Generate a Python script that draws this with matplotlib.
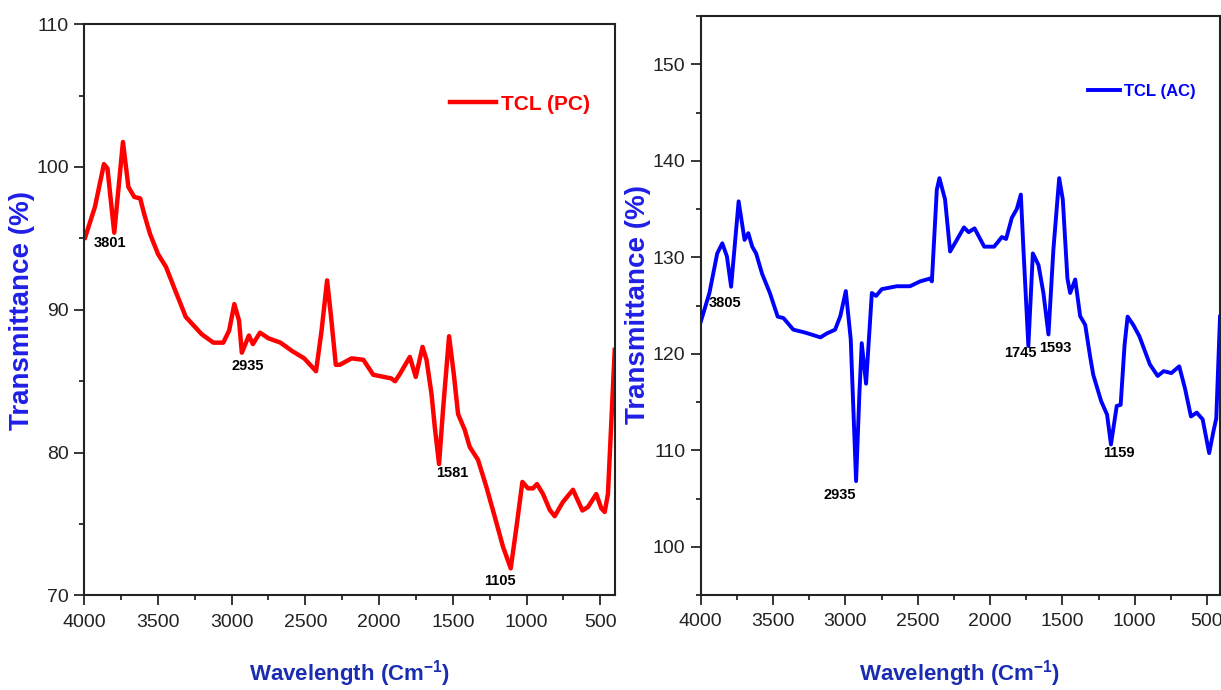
import numpy as np
import matplotlib
matplotlib.use('Agg')
from matplotlib import pyplot as plt
from matplotlib import font_manager
from matplotlib.ticker import MultipleLocator

names = {f.name for f in font_manager.fontManager.ttflist}
narrow = 'Liberation Sans Narrow' if 'Liberation Sans Narrow' in names else 'Liberation Sans'
plt.rcParams['font.family'] = [narrow, 'DejaVu Sans']
plt.rcParams['mathtext.default'] = 'regular'

# FTIR spectrum, TCL (PC)
pc_wn = [3993, 3926, 3865, 3841, 3795, 3736, 3699, 3659, 3619, 3592, 3552, 3498,
         3444, 3391, 3310, 3203, 3123, 3056, 3016, 2981, 2949, 2930, 2882, 2855,
         2807, 2748, 2668, 2587, 2507, 2427, 2390, 2352, 2325, 2293, 2266, 2186,
         2106, 2039, 1918, 1891, 1859, 1791, 1751, 1705, 1678, 1644, 1622, 1593,
         1566, 1525, 1493, 1464, 1419, 1385, 1329, 1272, 1215, 1159, 1107, 1068,
         1028, 990, 956, 929, 888, 843, 809, 753, 685, 621, 583, 527, 493, 470,
         448, 402]
pc_t = [95.05, 97.2, 100.2, 99.9, 95.4, 101.75, 98.6, 97.9, 97.8, 96.7, 95.3, 93.9,
        93.0, 91.6, 89.5, 88.3, 87.7, 87.7, 88.55, 90.4, 89.25, 87.0, 88.2, 87.6,
        88.4, 88.0, 87.7, 87.1, 86.6, 85.7, 88.5, 92.06, 89.5, 86.15, 86.15, 86.6,
        86.5, 85.45, 85.2, 85.0, 85.5, 86.7, 85.3, 87.4, 86.5, 84.1, 81.8, 79.2,
        83.0, 88.15, 85.5, 82.7, 81.6, 80.4, 79.5, 77.6, 75.5, 73.4, 71.9, 74.8,
        77.95, 77.5, 77.5, 77.8, 77.1, 76.0, 75.55, 76.55, 77.4, 75.95, 76.2, 77.1,
        76.1, 75.85, 77.1, 87.2]

# FTIR spectrum, TCL (AC)
ac_wn = [4000, 3940, 3886, 3851, 3819, 3790, 3738, 3697, 3671, 3644, 3617, 3576,
         3522, 3468, 3428, 3360, 3279, 3172, 3129, 3071, 3035, 2997, 2963, 2926,
         2903, 2887, 2857, 2817, 2788, 2748, 2645, 2553, 2484, 2414, 2402, 2368,
         2350, 2311, 2276, 2241, 2180, 2148, 2107, 2040, 1972, 1918, 1889, 1849,
         1815, 1787, 1769, 1735, 1704, 1665, 1631, 1596, 1562, 1522, 1497, 1465,
         1446, 1411, 1377, 1342, 1308, 1286, 1232, 1191, 1164, 1124, 1097, 1070,
         1049, 1010, 967, 895, 841, 800, 746, 692, 652, 611, 571, 530, 485, 455,
         436, 410]
ac_t = [123.3, 126.3, 130.4, 131.45, 130.1, 126.95, 135.8, 131.8, 132.5, 131.1, 130.4, 128.3,
        126.3, 123.85, 123.7, 122.5, 122.2, 121.7, 122.1, 122.5, 123.9, 126.5, 121.5, 106.8,
        115.9, 121.1, 116.9, 126.3, 126.0, 126.7, 127.0, 127.0, 127.5, 127.8, 127.5, 137.0,
        138.2, 136.0, 130.6, 131.5, 133.1, 132.6, 133.0, 131.1, 131.1, 132.1, 131.9, 134.1,
        135.0, 136.5, 130.8, 120.8, 130.4, 129.2, 126.3, 122.0, 130.8, 138.2, 136.0, 127.8,
        126.3, 127.7, 123.9, 123.0, 119.7, 117.8, 115.1, 113.7, 110.6, 114.6, 114.7, 120.9,
        123.85, 123.0, 121.8, 118.9, 117.7, 118.2, 118.0, 118.7, 116.4, 113.5, 113.9, 113.2,
        109.7, 112.0, 113.3, 123.85]

# peak labels (text, x, y)
pc_labels = [('3801', 3824, 94.7), ('2935', 2889, 86.1), ('1581', 1502, 78.6), ('1105', 1182, 71.0)]
ac_labels = [('3805', 3832, 125.3), ('2935', 3037, 105.4), ('1745', 1792, 120.1),
             ('1593', 1550, 120.6), ('1159', 1107, 109.7)]

fig = plt.figure(figsize=(12.21, 6.90), dpi=100)
ax1 = fig.add_axes([0.0688, 0.137, 0.4349, 0.828])
ax2 = fig.add_axes([0.5739, 0.1377, 0.4253, 0.839])

ax1.plot(pc_wn, pc_t, c='#ff0000', linewidth=3.2, solid_joinstyle='round', label='TCL (PC)')
ax2.plot(ac_wn, ac_t, c='#0000ff', linewidth=2.8, solid_joinstyle='round', label='TCL (AC)')

ax1.set_xlim(4000, 400)
ax1.set_ylim(70, 110)
ax2.set_xlim(4000, 410)
ax2.set_ylim(95, 155)

for ax in (ax1, ax2):
    ax.xaxis.set_major_locator(MultipleLocator(500))
    ax.xaxis.set_minor_locator(MultipleLocator(250))
    ax.yaxis.set_major_locator(MultipleLocator(10))
    ax.yaxis.set_minor_locator(MultipleLocator(5))
    ax.tick_params(which='major', direction='out', length=7, width=1.1, labelsize=14,
                   labelcolor='#222222', pad=4)
    ax.tick_params(axis='x', which='major', pad=6)
    ax.tick_params(which='minor', direction='out', length=3.5, width=1.1)
    for s in ax.spines.values():
        s.set_linewidth(1.5)
        s.set_color('#222222')

for txt, x, y in pc_labels:
    ax1.text(x, y, txt, ha='center', va='center', fontsize=10.5, fontweight='bold')
for txt, x, y in ac_labels:
    ax2.text(x, y, txt, ha='center', va='center', fontsize=10.5, fontweight='bold')

ax1.legend(loc='center left', bbox_to_anchor=(0.689, 0.86), frameon=False, borderpad=0,
           borderaxespad=0, handlelength=2.2, handletextpad=0.25, labelcolor='linecolor',
           prop={'family': narrow, 'weight': 'bold', 'size': 15})
ax2.legend(loc='center left', bbox_to_anchor=(0.746, 0.87), frameon=False, borderpad=0,
           borderaxespad=0, handlelength=1.9, handletextpad=0.25, labelcolor='linecolor',
           prop={'family': narrow, 'weight': 'bold', 'size': 12})

ylab = dict(rotation=90, ha='center', va='center', color='#1f1fe6', fontsize=20,
            fontweight='bold', family=['Liberation Sans', 'DejaVu Sans'])
fig.text(22 / 1221, 1 - 310 / 690, 'Transmittance (%)', **ylab)
fig.text(638 / 1221, 1 - 305 / 690, 'Transmittance (%)', **ylab)

xlab = dict(ha='center', va='center', color='#1a2db0', fontsize=16, fontweight='bold')
fig.text(350 / 1221, 1 - 674 / 690, 'Wavelength (Cm$^{-1}$)', **xlab)
fig.text(960 / 1221, 1 - 674 / 690, 'Wavelength (Cm$^{-1}$)', **xlab)

plt.savefig('out.png', dpi=100)
